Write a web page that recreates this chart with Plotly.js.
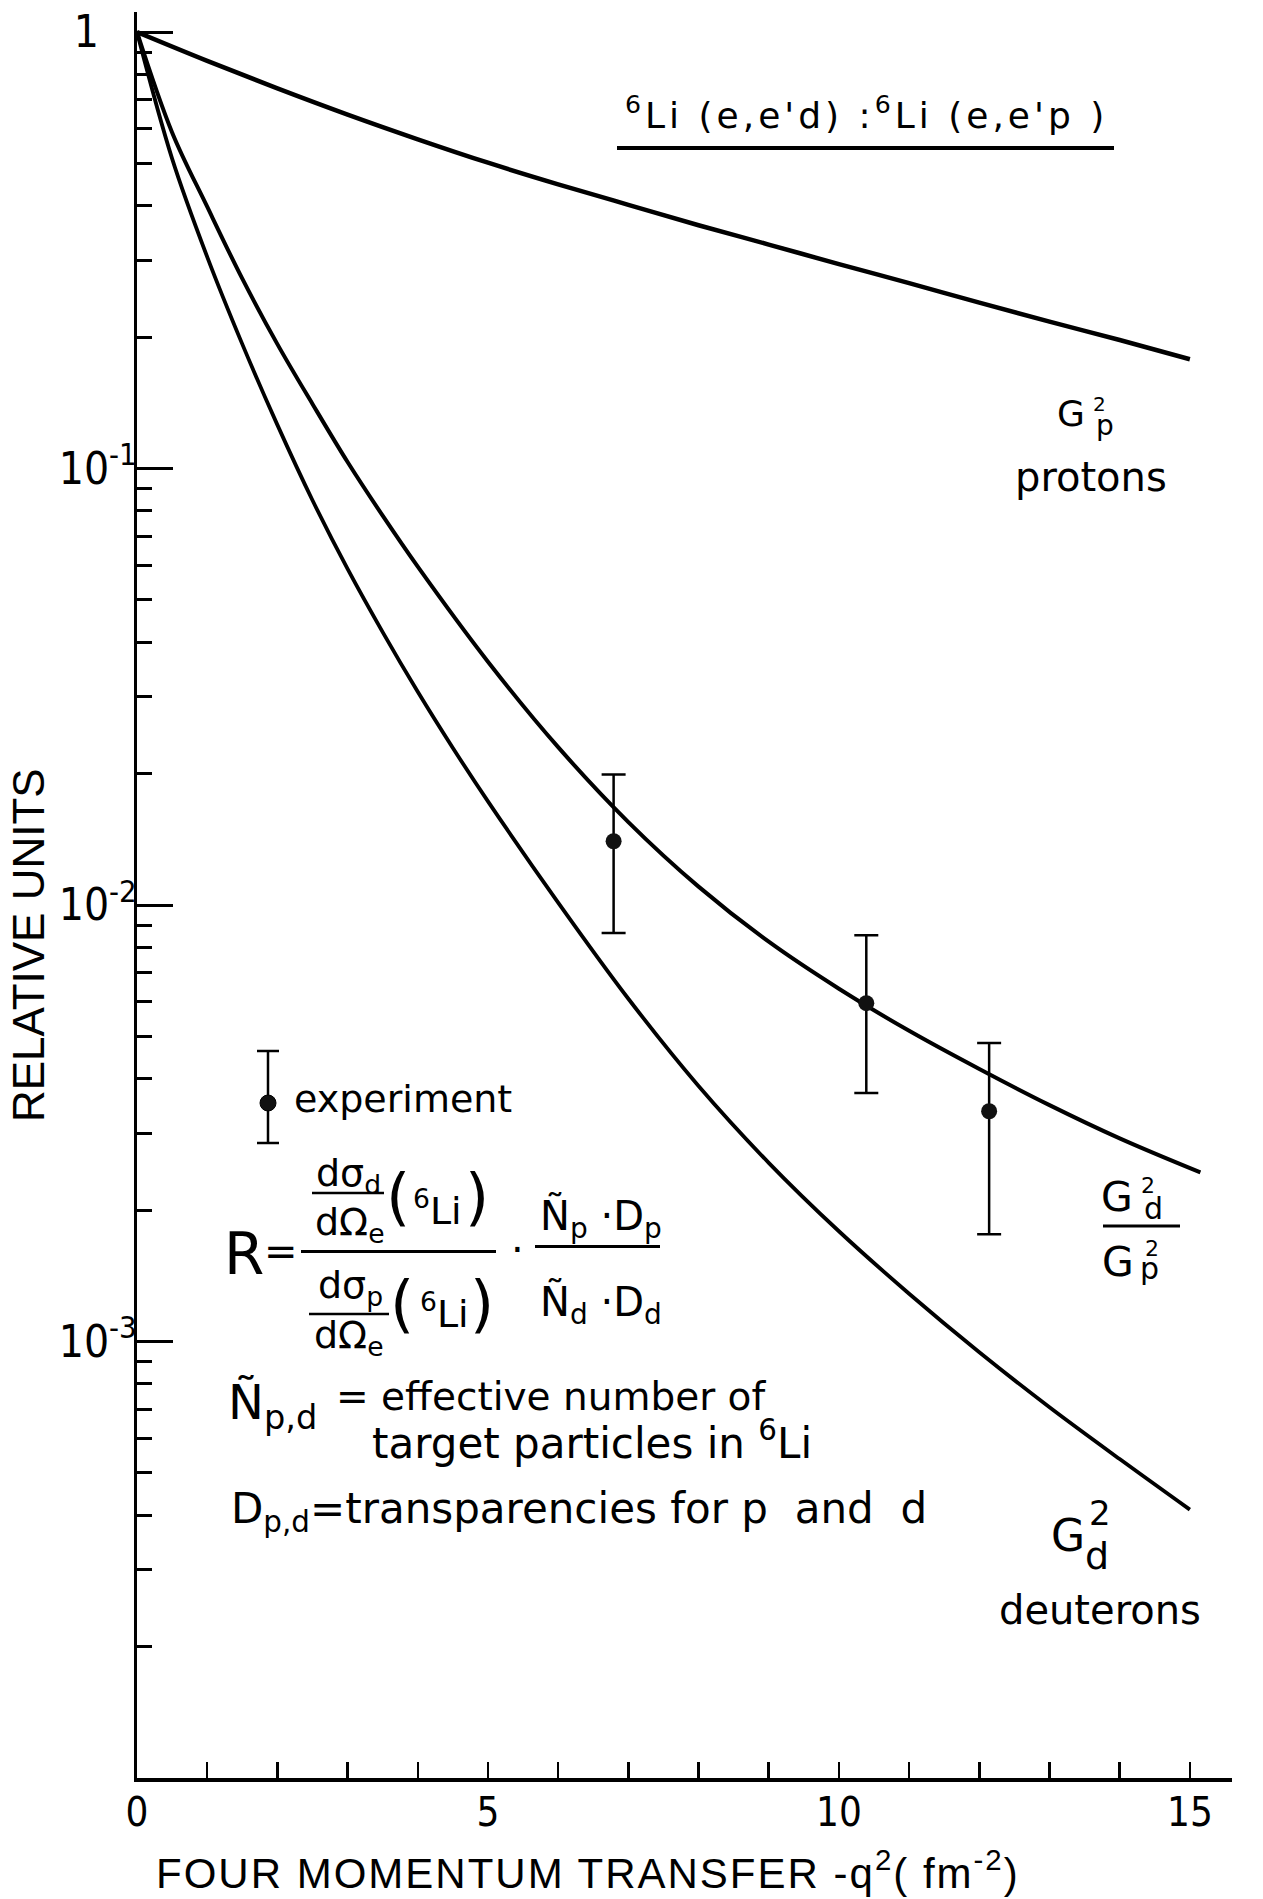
<!DOCTYPE html>
<html>
<head>
<meta charset="utf-8">
<script src="https://cdn.plot.ly/plotly-3.0.1.min.js"></script>
<style>html,body{margin:0;padding:0;background:#fff}</style>
</head>
<body>
<div id="chart" style="width:1263px;height:1899px"></div>
<script>
// ---- data ----
const qProton   = [0, 1, 2, 3, 4, 5, 6, 7, 8, 9, 10, 11, 12, 13, 14, 15];
const gpSquared = [1, 0.859, 0.743, 0.647, 0.568, 0.502, 0.448, 0.402, 0.361, 0.326, 0.294, 0.266, 0.240, 0.217, 0.197, 0.178];

const qRatio  = [0, 0.5, 1, 1.5, 2, 2.5, 3, 3.5, 4, 5, 6, 7, 8, 9, 10, 11, 12, 13, 14, 15.15];
const ratioDP = [1, 0.589, 0.398, 0.2723, 0.1928, 0.1406, 0.1035, 0.078, 0.0596, 0.0361, 0.0230, 0.01549, 0.01102, 0.00824, 0.00643, 0.00515, 0.00421, 0.00348, 0.00292, 0.00244];

const qDeuteron = [0, 0.5, 1, 1.5, 2, 2.5, 3, 3.5, 4, 4.5, 5, 6, 7, 8, 9, 10, 11, 12, 13, 14, 15];
const gdSquared = [1, 0.513, 0.3055, 0.1928, 0.1259, 0.0846, 0.0589, 0.0422, 0.0308, 0.0229, 0.01728, 0.01013, 0.0061, 0.00385, 0.002567, 0.001789, 0.001287, 0.000945, 0.000707, 0.000538, 0.000412];

const expQ    = [6.79, 10.39, 12.14];
const expR    = [0.0140, 0.00596, 0.00337];
const expHigh = [0.0199, 0.00853, 0.00483];
const expLow  = [0.00863, 0.00371, 0.00176];

const xTickVals = [0,1,2,3,4,5,6,7,8,9,10,11,12,13,14,15];
const xTickText = ['0','','','','','5','','','','','10','','','','','15'];
const yTickVals = [1, 0.1, 0.01, 0.001];
const yTickText = ['1\u00a0\u00a0\u00a0', '10<sup>-1</sup>', '10<sup>-2</sup>', '10<sup>-3</sup>'];
const yMinorMantissas = [2,3,4,5,6,7,8,9];
const yMinorDecades = [0.1, 0.01, 0.001, 0.0001];

// ---- build ----
const yMinorVals = [];
yMinorDecades.forEach(d => yMinorMantissas.forEach(m => yMinorVals.push(+(m*d).toPrecision(3))));
const errPlus  = expHigh.map((h,i) => h - expR[i]);
const errMinus = expR.map((v,i) => v - expLow[i]);

const W = 1263, H = 1899, ML = 137, MR = 31, MT = 12, MB = 121;
const PW = W - ML - MR, PH = H - MT - MB;
const px = X => (X - ML) / PW;
const py = Y => (H - MB - Y) / PH;

const SANS = 'DejaVu Sans, sans-serif';
const NARROW = 'Liberation Sans Narrow, DejaVu Sans Condensed, sans-serif';
const ARIAL = 'Liberation Sans, Arial, sans-serif';

function txt(X, Y, text, size, extra) {
  return Object.assign({
    xref: 'paper', yref: 'paper', x: px(X), y: py(Y), text: text,
    showarrow: false, xanchor: 'center', yanchor: 'middle',
    font: {family: SANS, size: size, color: '#000'}
  }, extra || {});
}
function hline(X1, X2, Y, w) {
  return {type: 'line', xref: 'paper', yref: 'paper', x0: px(X1), x1: px(X2), y0: py(Y), y1: py(Y),
          line: {color: '#000', width: w}};
}
function vline(X, Y1, Y2, w) {
  return {type: 'line', xref: 'paper', yref: 'paper', x0: px(X), x1: px(X), y0: py(Y1), y1: py(Y2),
          line: {color: '#000', width: w}};
}

const curveLine = w => ({color: '#000', width: w, shape: 'spline', smoothing: 1, simplify: false});
const traces = [
  {x: qProton, y: gpSquared, mode: 'lines', line: curveLine(4.5), hoverinfo: 'skip', showlegend: false},
  {x: qRatio, y: ratioDP, mode: 'lines', line: curveLine(4), hoverinfo: 'skip', showlegend: false},
  {x: qDeuteron, y: gdSquared, mode: 'lines', line: curveLine(3.8), hoverinfo: 'skip', showlegend: false},
  {x: expQ, y: expR, mode: 'markers', marker: {size: 16, color: '#111'},
   error_y: {type: 'data', symmetric: false, array: errPlus, arrayminus: errMinus, color: '#000', thickness: 2.5, width: 12},
   hoverinfo: 'skip', showlegend: false}
];

const annotations = [
  txt(866, 113, `<span style="letter-spacing:4px"><sup>6</sup>Li (e,e'd) :<sup>6</sup>Li (e,e'p )</span>`, 36),
  // G_p^2 protons
  txt(1071, 414, 'G', 36), txt(1099, 404, '2', 20), txt(1105, 425, 'p', 28),
  txt(1091, 477, 'protons', 40),
  // G_d^2 / G_p^2
  txt(1117, 1197, 'G', 41), txt(1148, 1185, '2', 22), txt(1153, 1208, 'd', 30),
  txt(1118, 1262, 'G', 41), txt(1152, 1249, '2', 22), txt(1149, 1268, 'p', 30),
  // G_d^2 deuterons
  txt(1068, 1535, 'G', 44), txt(1100, 1513, '2', 34), txt(1097, 1556, 'd', 38),
  txt(1100, 1610, 'deuterons', 40),
  // legend text
  txt(403, 1099, 'experiment', 38),
  // formula
  txt(244, 1254, 'R', 58), txt(281, 1251, '=', 40),
  txt(348, 1175, 'dσ<sub>d</sub>', 38), txt(350, 1224, 'dΩ<sub>e</sub>', 38),
  txt(398, 1196, '(', 62), txt(437, 1208, '<sup>6</sup>Li', 38), txt(477, 1196, ')', 62),
  txt(350, 1287, 'dσ<sub>p</sub>', 38), txt(349, 1337, 'dΩ<sub>e</sub>', 38),
  txt(402, 1303, '(', 62), txt(445, 1311, '<sup>6</sup>Li', 38), txt(482, 1303, ')', 62),
  txt(517, 1250, '·', 40),
  txt(601, 1218, 'Ñ<sub>p</sub> ·D<sub>p</sub>', 40),
  txt(601, 1304, 'Ñ<sub>d</sub> ·D<sub>d</sub>', 40),
  txt(226, 1405, 'Ñ<sub>p,d</sub>', 48, {xanchor: 'left'}),
  txt(334, 1396, '= effective number of', 39, {xanchor: 'left'}),
  txt(370, 1440, 'target particles in <sup>6</sup>Li', 42, {xanchor: 'left'}),
  txt(229, 1511, 'D<sub>p,d</sub>=transparencies for p\u00a0 and\u00a0 d', 42, {xanchor: 'left'}),
  // axis titles
  txt(588, 1870, '<span style="letter-spacing:2px">FOUR MOMENTUM TRANSFER -q<sup>2</sup>( fm<sup>-2</sup>)</span>', 42,
      {font: {family: ARIAL, size: 42, color: '#000'}}),
  txt(29, 945, 'RELATIVE UNITS', 44,
      {textangle: -90, font: {family: ARIAL, size: 44, color: '#000'}})
];

const shapes = [
  hline(617, 1114, 148, 4),
  hline(1103, 1180, 1226, 3),
  hline(301, 496, 1251.5, 3),
  hline(312, 384, 1193, 2.5),
  hline(309, 389, 1314, 2.5),
  hline(535, 660, 1246.5, 3),
  // legend key: error bar with dot
  vline(268, 1051, 1143, 2.5),
  hline(257, 279, 1051, 2.5),
  hline(257, 279, 1143, 2.5),
  {type: 'circle', xref: 'paper', yref: 'paper', x0: px(260), x1: px(276), y0: py(1111), y1: py(1095),
   fillcolor: '#111', line: {color: '#000', width: 1}}
];

const layout = {
  width: W, height: H,
  margin: {l: ML, r: MR, t: MT, b: MB, pad: 0},
  paper_bgcolor: '#fff', plot_bgcolor: '#fff',
  font: {family: SANS, color: '#000'},
  showlegend: false,
  xaxis: {
    range: [0, 15.6], showline: true, linewidth: 3.5, linecolor: '#000',
    ticks: 'inside', ticklen: 16, tickwidth: 2.5, tickcolor: '#000',
    tickmode: 'array', tickvals: xTickVals, ticktext: xTickText,
    tickfont: {family: NARROW, size: 40, color: '#000'},
    ticklabelstandoff: -4,
    showgrid: false, zeroline: false, fixedrange: true
  },
  yaxis: {
    type: 'log', range: [-4, 0.046], showline: true, linewidth: 3.5, linecolor: '#000',
    ticks: 'inside', ticklen: 36, tickwidth: 3, tickcolor: '#000',
    tickmode: 'array', tickvals: yTickVals, ticktext: yTickText,
    tickfont: {family: NARROW, size: 44, color: '#000'},
    ticklabelstandoff: -12,
    minor: {tickmode: 'array', tickvals: yMinorVals, ticks: 'inside', ticklen: 15, tickwidth: 3, tickcolor: '#000', showgrid: false},
    showgrid: false, zeroline: false, fixedrange: true
  },
  yaxis2: {
    type: 'log', range: [-4, 0.046], overlaying: 'y', side: 'left',
    showline: false, ticks: 'outside', ticklen: 29, tickwidth: 3, tickcolor: '#000',
    tickmode: 'array', tickvals: [1], showticklabels: false,
    showgrid: false, zeroline: false, fixedrange: true
  },
  annotations: annotations,
  shapes: shapes
};

Plotly.newPlot('chart', traces, layout, {staticPlot: true, displayModeBar: false});
</script>
</body>
</html>
